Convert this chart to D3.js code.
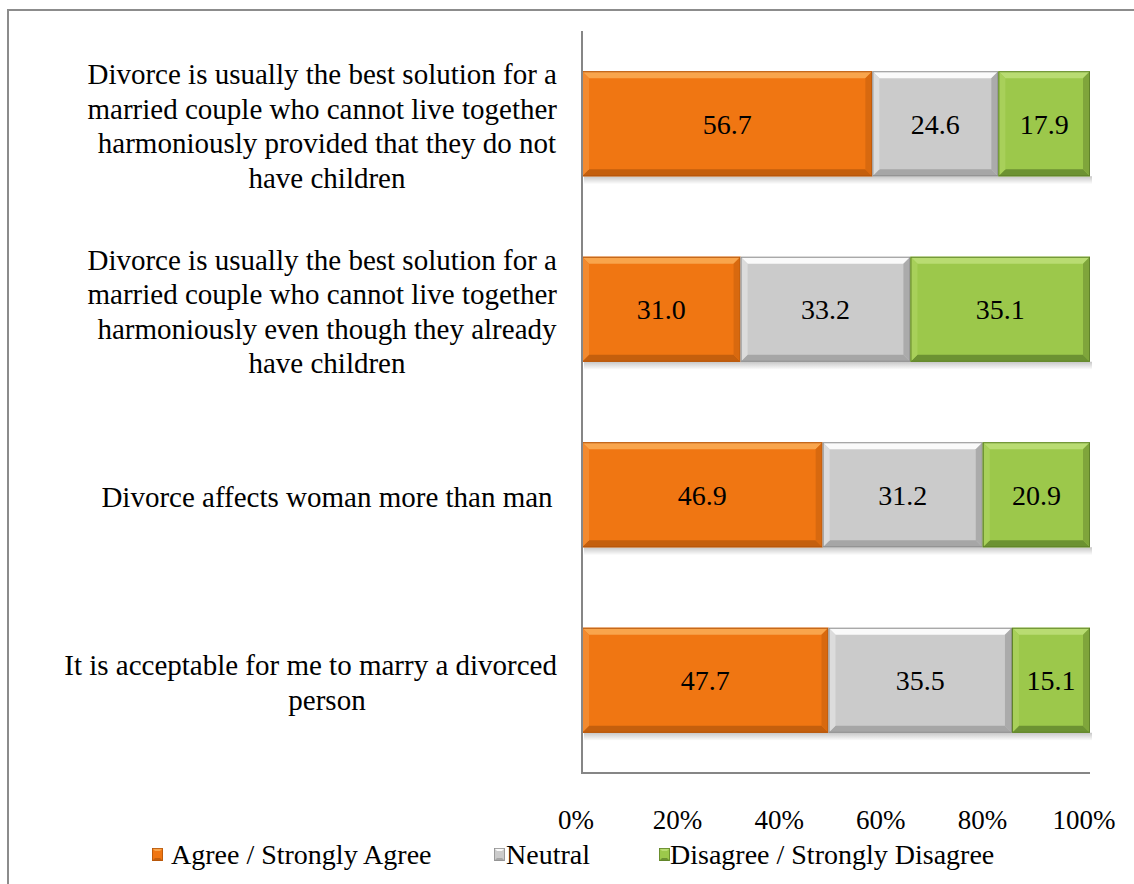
<!DOCTYPE html>
<html>
<head>
<script src="https://cdn.jsdelivr.net/npm/d3@7"></script>
</head>
<body style="margin:0">
<svg id="chart" width="1134" height="884"></svg>
<script>
// ---- Data ----
const categories = [
  ["Divorce is usually the best solution for a", "married couple who cannot live together", "harmoniously provided that they do not", "have children"],
  ["Divorce is usually the best solution for a", "married couple who cannot live together", "harmoniously even though they already", "have children"],
  ["Divorce affects woman more than man"],
  ["It is acceptable for me to marry a divorced", "person"]
];
const agree    = [56.7, 31.0, 46.9, 47.7];
const neutral  = [24.6, 33.2, 31.2, 35.5];
const disagree = [17.9, 35.1, 20.9, 15.1];
const seriesNames = ["Agree / Strongly Agree", "Neutral", "Disagree / Strongly Disagree"];
const tickValues = [0, 0.2, 0.4, 0.6, 0.8, 1.0];

// ---- Styles ----
const FONT = "Times New Roman";
const palette = [
  { base: "#F07612", top: "#F9A54C", bottom: "#C45F0D", left: "#F38A2E", right: "#D8690F", edge: "#B4560C" },
  { base: "#CBCBCB", top: "#FAFAFA", bottom: "#A6A6A6", left: "#DCDCDC", right: "#ABABAB", edge: "#8F8F8F" },
  { base: "#9CC84B", top: "#B9DC72", bottom: "#6C9232", left: "#A8D05A", right: "#7FA53B", edge: "#5F8229" }
];

const svg = d3.select("#chart");
const defs = svg.append("defs");
const sg = defs.append("linearGradient").attr("id", "shade").attr("x1", 0).attr("y1", 0).attr("x2", 0).attr("y2", 1);
sg.append("stop").attr("offset", "0%").attr("stop-color", "#000").attr("stop-opacity", 0.22);
sg.append("stop").attr("offset", "100%").attr("stop-color", "#000").attr("stop-opacity", 0);

// outer frame
svg.append("rect").attr("x", 8).attr("y", 10).attr("width", 1140).attr("height", 900)
  .attr("fill", "none").attr("stroke", "#8c8c8c").attr("stroke-width", 2);

const plot = { left: 582, right: 1090, top: 31, bottom: 773 };

const rows = categories.map((c, i) => ({ i, agree: agree[i], neutral: neutral[i], disagree: disagree[i] }));
const keys = ["agree", "neutral", "disagree"];
const stack = d3.stack().keys(keys).offset(d3.stackOffsetExpand);
const stacked = stack(rows);

const x = d3.scaleLinear().domain([0, 1]).range([plot.left, plot.right]);
const y = d3.scaleBand().domain(d3.range(categories.length)).range([plot.top, plot.bottom]).paddingInner(0.434).paddingOuter(0.217);

// soft shadows under bars
categories.forEach((c, ri) => {
  svg.append("rect").attr("x", x(0) + 2).attr("y", y(ri) + y.bandwidth()).attr("width", x(1) - x(0)).attr("height", 8)
    .attr("fill", "url(#shade)");
});

// bars
const B = 7; // bevel
stacked.forEach((layer, si) => {
  const col = palette[si];
  const g = svg.append("g");
  layer.forEach((d, ri) => {
    const x0 = x(d[0]), x1 = x(d[1]);
    const y0 = y(ri), y1 = y(ri) + y.bandwidth();
    const w = x1 - x0, h = y1 - y0;
    const bg = g.append("g");
    bg.append("rect").attr("x", x0).attr("y", y0).attr("width", w).attr("height", h).attr("fill", col.base);
    const pts = (arr) => arr.map(p => p.join(",")).join(" ");
    bg.append("polygon").attr("points", pts([[x0, y0], [x1, y0], [x1 - B, y0 + B], [x0 + B, y0 + B]])).attr("fill", col.top);
    bg.append("polygon").attr("points", pts([[x0, y1], [x1, y1], [x1 - B, y1 - B], [x0 + B, y1 - B]])).attr("fill", col.bottom);
    bg.append("polygon").attr("points", pts([[x0, y0], [x0 + B, y0 + B], [x0 + B, y1 - B], [x0, y1]])).attr("fill", col.left);
    bg.append("polygon").attr("points", pts([[x1, y0], [x1 - B, y0 + B], [x1 - B, y1 - B], [x1, y1]])).attr("fill", col.right);
    bg.append("rect").attr("x", x0 + 0.5).attr("y", y0 + 0.5).attr("width", w - 1).attr("height", h - 1)
      .attr("fill", "none").attr("stroke", col.edge).attr("stroke-width", 1);
  });
});

// value labels
stacked.forEach((layer, si) => {
  layer.forEach((d, ri) => {
    const raw = rows[ri][keys[si]];
    svg.append("text")
      .attr("x", (x(d[0]) + x(d[1])) / 2)
      .attr("y", y(ri) + y.bandwidth() / 2 + 10)
      .attr("text-anchor", "middle")
      .style("font-family", FONT)
      .style("font-size", "28px")
      .text(raw.toFixed(1));
  });
});

// axes lines
svg.append("line").attr("x1", plot.left).attr("x2", plot.left).attr("y1", plot.top).attr("y2", plot.bottom)
  .attr("stroke", "#868686").attr("stroke-width", 2);
svg.append("line").attr("x1", plot.left - 1).attr("x2", plot.right).attr("y1", plot.bottom).attr("y2", plot.bottom)
  .attr("stroke", "#868686").attr("stroke-width", 2);

// x tick labels
tickValues.forEach(v => {
  svg.append("text").attr("x", x(v) - 6).attr("y", 829).attr("text-anchor", "middle")
    .style("font-family", FONT).style("font-size", "27px").text(d3.format(".0%")(v));
});

// category labels: each line centred on a common axis, pushed left if it would cross the right margin
const lineH = 34.5, labelCenter = 327, labelRight = 557;
categories.forEach((lines, i) => {
  const cy = y(i) + y.bandwidth() / 2;
  const n = lines.length;
  lines.forEach((ln, k) => {
    const t = svg.append("text")
      .attr("y", cy + (k - (n - 1) / 2) * lineH + 12)
      .style("font-family", FONT).style("font-size", "29px").attr("text-anchor", "middle").text(ln);
    const w = t.node().getComputedTextLength();
    t.attr("x", Math.min(labelCenter, labelRight - w / 2));
  });
});

// legend
const legendItems = [
  { x: 152, tx: 171 },
  { x: 494, tx: 506 },
  { x: 659, tx: 670 }
];
seriesNames.forEach((name, si) => {
  const col = palette[si];
  const lx = legendItems[si].x, ly = 848, s = 11;
  const g = svg.append("g");
  g.append("rect").attr("x", lx).attr("y", ly).attr("width", s).attr("height", 13).attr("fill", col.base);
  g.append("polygon").attr("points", `${lx},${ly} ${lx + s},${ly} ${lx + s - 3},${ly + 3} ${lx + 3},${ly + 3}`).attr("fill", col.top);
  g.append("polygon").attr("points", `${lx},${ly + 13} ${lx + s},${ly + 13} ${lx + s - 3},${ly + 10} ${lx + 3},${ly + 10}`).attr("fill", col.bottom);
  g.append("rect").attr("x", lx + 0.5).attr("y", ly + 0.5).attr("width", s - 1).attr("height", 12).attr("fill", "none").attr("stroke", col.edge).attr("stroke-width", 0.8);
  svg.append("text").attr("x", legendItems[si].tx).attr("y", 864).style("font-size", "28px").style("font-family", FONT).text(name);
});
</script>
</body>
</html>
